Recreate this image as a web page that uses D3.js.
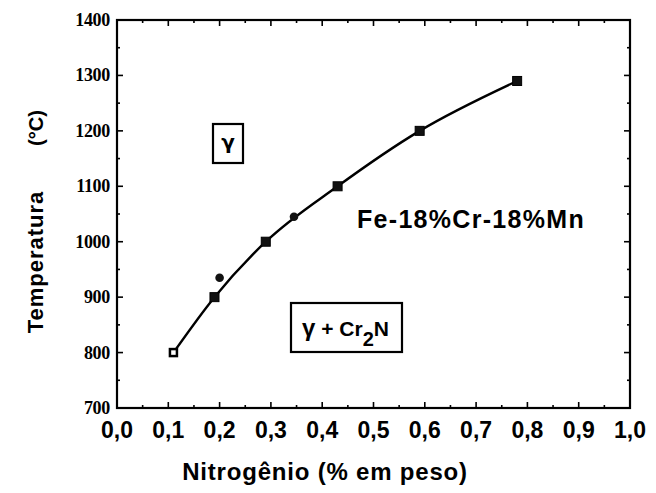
<!DOCTYPE html>
<html>
<head>
<meta charset="utf-8">
<script src="https://cdn.jsdelivr.net/npm/d3@7"></script>
<style>
  body { margin: 0; background: #fff; }
  svg { display: block; }
</style>
</head>
<body>
<div id="chart"></div>
<script>
// data
const nitrogen = [0.11, 0.19, 0.29, 0.43, 0.59, 0.78];
const temperature = [800, 900, 1000, 1100, 1200, 1290];
const extraN = [0.2, 0.345];
const extraT = [935, 1045];
const xTicks = [0, 0.1, 0.2, 0.3, 0.4, 0.5, 0.6, 0.7, 0.8, 0.9, 1.0];
const yTicks = [700, 800, 900, 1000, 1100, 1200, 1300, 1400];

const W = 656, H = 493;
const svg = d3.select("#chart").append("svg").attr("width", W).attr("height", H);

const x = d3.scaleLinear().domain([0, 1]).range([117, 630]);
const y = d3.scaleLinear().domain([700, 1400]).range([408, 20]);

const sans = "Liberation Sans, Arial, sans-serif";

// frame
svg.append("rect")
    .attr("x", x(0)).attr("y", y(1400))
    .attr("width", x(1) - x(0)).attr("height", y(700) - y(1400))
    .attr("fill", "none").attr("stroke", "#000").attr("stroke-width", 2.2);

// ticks, all pointing inward
const xMinor = d3.range(0, 1.0001, 0.05);
const yMinor = d3.range(700, 1400.1, 50);
const isMajorX = v => Math.abs(v * 10 - Math.round(v * 10)) < 1e-6;
const isMajorY = v => v % 100 === 0;

const tk = svg.append("g").attr("stroke", "#000").attr("stroke-width", 1.6);
xMinor.forEach(v => {
    const len = isMajorX(v) ? 6 : 3;
    tk.append("line").attr("x1", x(v)).attr("x2", x(v)).attr("y1", y(700)).attr("y2", y(700) - len);
    tk.append("line").attr("x1", x(v)).attr("x2", x(v)).attr("y1", y(1400)).attr("y2", y(1400) + len);
});
yMinor.forEach(v => {
    const len = isMajorY(v) ? 6 : 3;
    tk.append("line").attr("x1", x(0)).attr("x2", x(0) + len).attr("y1", y(v)).attr("y2", y(v));
    tk.append("line").attr("x1", x(1)).attr("x2", x(1) - len).attr("y1", y(v)).attr("y2", y(v));
});

// tick labels
svg.append("g").selectAll("text").data(xTicks).join("text")
    .attr("x", d => x(d)).attr("y", 438)
    .attr("text-anchor", "middle")
    .attr("font-family", sans)
    .attr("font-weight", "bold").attr("font-size", 23)
    .text(d => d.toFixed(1).replace(".", ","));

svg.append("g").selectAll("text").data(yTicks).join("text")
    .attr("x", 110).attr("y", d => y(d) + 6)
    .attr("text-anchor", "end")
    .attr("font-family", "Liberation Serif, serif")
    .attr("font-weight", "bold").attr("font-size", 18)
    .attr("letter-spacing", -0.3)
    .text(d => d);

// axis titles
svg.append("text")
    .attr("x", 325).attr("y", 480)
    .attr("text-anchor", "middle")
    .attr("font-family", sans)
    .attr("font-weight", "bold").attr("font-size", 24)
    .attr("letter-spacing", 0.8)
    .text("Nitrogênio (% em peso)");

svg.append("text")
    .attr("transform", "translate(43,262) rotate(-90)")
    .attr("text-anchor", "middle")
    .attr("font-family", sans)
    .attr("font-weight", "bold").attr("font-size", 22)
    .attr("letter-spacing", 1)
    .text("Temperatura");

svg.append("text")
    .attr("transform", "translate(43,128) rotate(-90)")
    .attr("text-anchor", "middle")
    .attr("font-family", sans)
    .attr("font-weight", "bold").attr("font-size", 20)
    .text("(°C)");

// curve through the squares
const pts = nitrogen.map((n, i) => [n, temperature[i]]);
svg.append("path")
    .datum(pts)
    .attr("fill", "none").attr("stroke", "#000").attr("stroke-width", 2.4)
    .attr("d", d3.line().x(d => x(d[0])).y(d => y(d[1])).curve(d3.curveMonotoneX));

// square markers (first one open)
svg.append("g").selectAll("rect").data(pts).join("rect")
    .attr("x", (d, i) => x(d[0]) - (i === 0 ? 3.5 : 4.5))
    .attr("y", (d, i) => y(d[1]) - (i === 0 ? 3.5 : 4.5))
    .attr("width", (d, i) => i === 0 ? 7 : 9).attr("height", (d, i) => i === 0 ? 7 : 9)
    .attr("fill", (d, i) => i === 0 ? "#fff" : "#111")
    .attr("stroke", "#000").attr("stroke-width", (d, i) => i === 0 ? 2.5 : 1);

// circle markers
svg.append("g").selectAll("circle").data(extraN.map((n, i) => [n, extraT[i]])).join("circle")
    .attr("cx", d => x(d[0])).attr("cy", d => y(d[1]))
    .attr("r", 4.3).attr("fill", "#111");

// region labels
svg.append("rect")
    .attr("x", 213).attr("y", 124).attr("width", 30).attr("height", 39)
    .attr("fill", "#fff").attr("stroke", "#000").attr("stroke-width", 2.2);
svg.append("text")
    .attr("x", 228).attr("y", 149).attr("text-anchor", "middle")
    .attr("font-family", "DejaVu Sans, sans-serif").attr("font-weight", "bold").attr("font-size", 20)
    .text("γ");

svg.append("rect")
    .attr("x", 291).attr("y", 303).attr("width", 111).attr("height", 49)
    .attr("fill", "#fff").attr("stroke", "#000").attr("stroke-width", 2.2);
const phase = svg.append("text")
    .attr("x", 302).attr("y", 336)
    .attr("font-family", sans).attr("font-weight", "bold").attr("font-size", 21);
phase.append("tspan").attr("font-size", 24).text("γ");
phase.append("tspan").text(" + Cr");
phase.append("tspan").attr("dy", 10).attr("font-size", 20).text("2");
phase.append("tspan").attr("dy", -10).text("N");

svg.append("text")
    .attr("x", 357).attr("y", 228)
    .attr("font-family", sans)
    .attr("font-weight", "bold").attr("font-size", 25)
    .attr("letter-spacing", 1.3)
    .text("Fe-18%Cr-18%Mn");
</script>
</body>
</html>
